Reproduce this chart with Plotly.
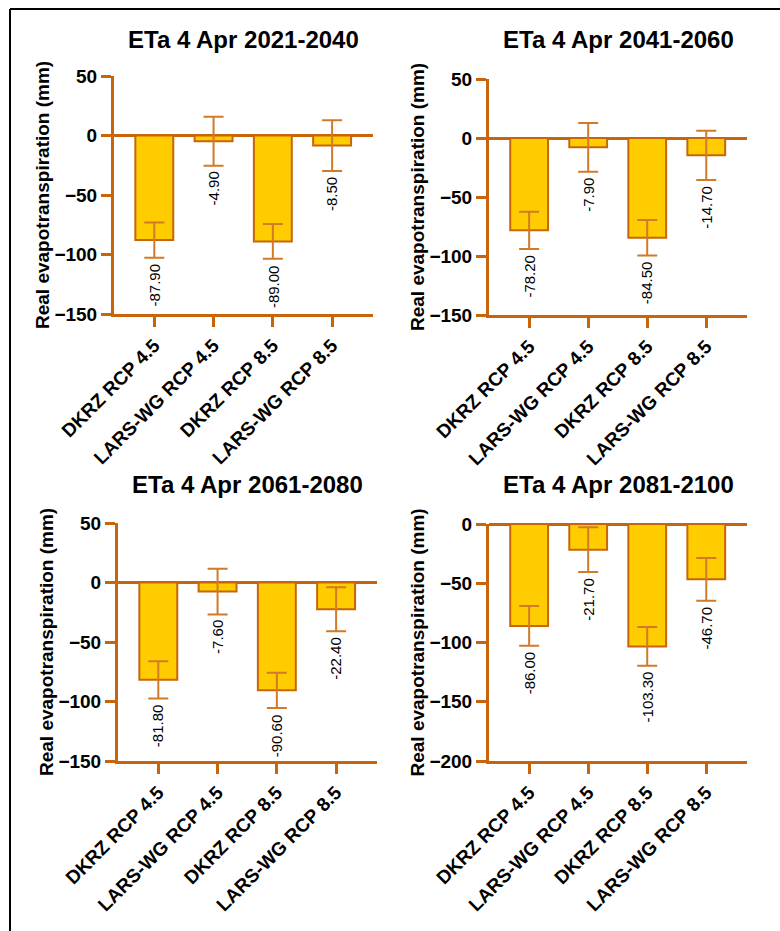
import plotly.graph_objects as go

# ---- data -------------------------------------------------------------
categories = ["DKRZ RCP 4.5", "LARS-WG RCP 4.5", "DKRZ RCP 8.5", "LARS-WG RCP 8.5"]

titles = ["ETa 4 Apr 2021-2040", "ETa 4 Apr 2041-2060",
          "ETa 4 Apr 2061-2080", "ETa 4 Apr 2081-2100"]

eta_2021_2040 = [-87.90, -4.90, -89.00, -8.50]
sd_2021_2040 = [14.8, 20.6, 14.6, 21.3]

eta_2041_2060 = [-78.20, -7.90, -84.50, -14.70]
sd_2041_2060 = [15.8, 20.6, 15.0, 20.8]

eta_2061_2080 = [-81.80, -7.60, -90.60, -22.40]
sd_2061_2080 = [15.6, 19.2, 14.8, 18.5]

eta_2081_2100 = [-86.00, -21.70, -103.30, -46.70]
sd_2081_2100 = [16.7, 18.9, 16.3, 18.1]

y_ranges = [[-150, 50], [-150, 50], [-150, 50], [-200, 0]]
y_ticks = [[-150, -100, -50, 0, 50], [-150, -100, -50, 0, 50],
           [-150, -100, -50, 0, 50], [-200, -150, -100, -50, 0]]

y_title = "Real evapotranspiration (mm)"

# ---- styling ----------------------------------------------------------
W, H = 780, 931
FONT = "Liberation Sans, Arial, Helvetica, sans-serif"
AXIS = "#C8650B"
FILL = "#FFCC00"
ERR = "#D27A28"

# plot areas in pixels: (left, right, top, bottom)
boxes = [(114, 373, 76, 314), (489, 747, 79, 315),
         (118, 377, 523, 761), (489, 747, 524, 761)]
title_rows = [40, 40, 485, 485]

means = [eta_2021_2040, eta_2041_2060, eta_2061_2080, eta_2081_2100]
sds = [sd_2021_2040, sd_2041_2060, sd_2061_2080, sd_2081_2100]

fig = go.Figure()
annotations = []

for i in range(4):
    n = i + 1
    xa = "x" if n == 1 else f"x{n}"
    ya = "y" if n == 1 else f"y{n}"
    left, right, top, bottom = boxes[i]

    fig.add_trace(go.Bar(
        x=list(range(len(categories))), y=means[i],
        xaxis=xa, yaxis=ya,
        marker=dict(color=FILL, line=dict(color=AXIS, width=2)),
        error_y=dict(type="data", array=sds[i], symmetric=True,
                     color=ERR, thickness=2, width=10),
        showlegend=False, hoverinfo="skip",
    ))

    xkey = "xaxis" if n == 1 else f"xaxis{n}"
    ykey = "yaxis" if n == 1 else f"yaxis{n}"
    fig.layout[xkey] = dict(
        domain=[left / W, right / W], anchor=ya, automargin=False,
        range=[-0.68, 3.69],
        tickmode="array", tickvals=list(range(len(categories))),
        ticktext=categories, tickangle=-45,
        ticks="outside", ticklen=10, tickwidth=3, tickcolor=AXIS,
        showline=True, linecolor=AXIS, linewidth=3,
        showgrid=False, zeroline=False,
        tickfont=dict(family=FONT, size=19, color="black", weight="bold"),
    )
    fig.layout[ykey] = dict(
        domain=[1 - bottom / H, 1 - top / H], anchor=xa, automargin=False,
        range=y_ranges[i], tickmode="array", tickvals=y_ticks[i],
        ticks="outside", ticklen=10, tickwidth=3, tickcolor=AXIS,
        showline=True, linecolor=AXIS, linewidth=3,
        showgrid=False, zeroline=True, zerolinecolor=AXIS, zerolinewidth=3,
        tickfont=dict(family=FONT, size=19, color="black", weight="bold"),
    )

    # panel title
    annotations.append(dict(
        text=titles[i], xref="paper", yref="paper",
        x=(left + right) / 2 / W, y=1 - title_rows[i] / H,
        xanchor="center", yanchor="middle", showarrow=False,
        font=dict(family=FONT, size=24, color="black", weight="bold"),
    ))
    # y-axis title
    annotations.append(dict(
        text=y_title, xref="paper", yref="paper",
        x=(left - 72) / W, y=1 - (top + bottom) / 2 / H,
        xanchor="center", yanchor="middle", textangle=-90, showarrow=False,
        font=dict(family=FONT, size=19, color="black", weight="bold"),
    ))
    # value labels below the lower error-bar end
    for j, (m, s) in enumerate(zip(means[i], sds[i])):
        annotations.append(dict(
            text=f"{m:.2f}", xref=xa, yref=ya, x=j, y=m - s,
            xanchor="center", yanchor="top", yshift=-4,
            textangle=-90, showarrow=False,
            font=dict(family=FONT, size=15, color="black"),
        ))

# frame lines along the top and left edges
shapes = [
    dict(type="line", xref="paper", yref="paper",
         x0=10 / W, x1=1.02, y0=1 - 9 / H, y1=1 - 9 / H,
         line=dict(color="black", width=2)),
    dict(type="line", xref="paper", yref="paper",
         x0=10 / W, x1=10 / W, y0=1 - 9 / H, y1=-0.02,
         line=dict(color="black", width=2)),
]

fig.update_layout(
    width=W, height=H,
    margin=dict(l=0, r=0, t=0, b=0, autoexpand=False),
    paper_bgcolor="white", plot_bgcolor="white",
    bargap=0.36,
    annotations=annotations, shapes=shapes,
)

fig.write_html("out.html")
